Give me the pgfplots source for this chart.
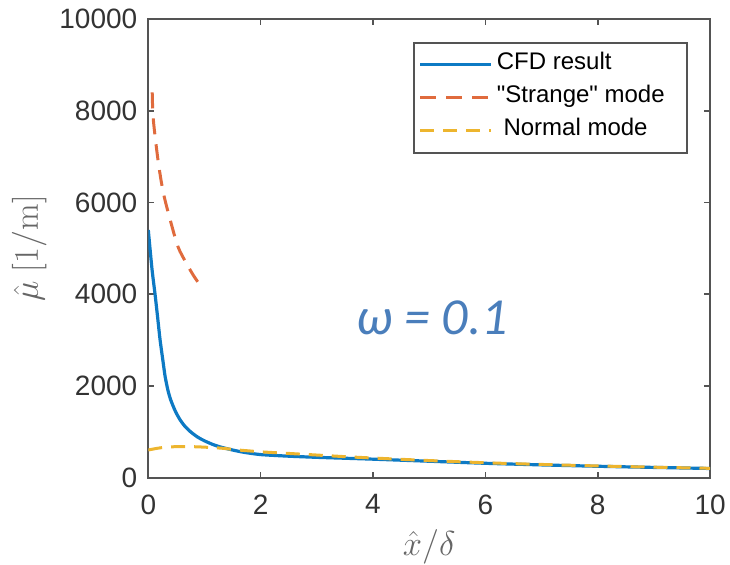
\documentclass[border=0pt]{standalone}
\usepackage[no-math]{fontspec}
\setmainfont{Liberation Sans}
\newfontfamily\legfont{Liberation Sans}
\newfontfamily\carlito{Carlito}
\usepackage{pgfplots}
\pgfplotsset{compat=1.18}
\definecolor{mblue}{rgb}{0.05,0.48,0.77}
\definecolor{morange}{rgb}{0.88,0.42,0.24}
\definecolor{myellow}{rgb}{0.93,0.71,0.18}
\definecolor{axgray}{rgb}{0.33,0.33,0.33}
\definecolor{annot}{HTML}{4A7EBB}
\begin{document}
\begin{tikzpicture}
\begin{axis}[
  scale only axis,
  width=280.9pt, height=229.2pt,
  xmin=0, xmax=10, ymin=0, ymax=10000,
  xtick={0,2,4,6,8,10},
  ytick={0,2000,4000,6000,8000,10000},
  scaled y ticks=false,
  /pgf/number format/assume math mode=true,
  /pgf/number format/1000 sep={},
  tick align=inside,
  major tick length=3pt,
  axis line style={axgray, line width=1pt},
  every tick/.style={axgray, line width=0.8pt},
  tick label style={font=\fontsize{14}{16}\selectfont, text=black!80},
  yticklabel style={xshift=-2pt},
  xticklabel style={yshift=-5pt, text depth=0pt},
  xlabel={$\hat{x}/\delta$},
  ylabel={$\hat{\mu}\ \mathrm{[1/m]}$},
  label style={font=\fontsize{16}{19}\selectfont, text=black!60},
  xlabel style={at={(axis description cs:0.5,-0.152)}, anchor=center},
  ylabel style={at={(axis description cs:-0.212,0.5)}, anchor=center},
  legend style={at={(rel axis cs:0.471,0.950)}, anchor=north west,
    draw=axgray, line width=0.8pt, font=\legfont\fontsize{12}{14}\selectfont,
    inner xsep=2.5pt, inner ysep=4pt, row sep=2.5pt,
    nodes={inner sep=2pt, text height=0.75em, text depth=0.25em}},
  legend cell align=left,
  legend image code/.code={\draw[#1] (0pt,0pt) -- (35.5pt,0pt);},
]
\addplot[mblue, line width=1.6pt, smooth, tension=0.4] coordinates {
(0,5400)(0.03,5000)(0.07,4500)(0.12,4000)(0.17,3450)(0.21,3000)(0.26,2550)
(0.3,2200)(0.35,1900)(0.4,1690)(0.48,1450)(0.56,1270)(0.65,1120)(0.75,1000)
(0.88,880)(1.0,800)(1.15,720)(1.3,660)(1.5,600)(1.7,550)(2.0,500)(2.5,465)
(3.0,440)(3.5,420)(4.0,400)(5.0,355)(6.0,310)(7.0,275)(8.0,245)(9.0,220)(10,197)};
\addlegendentry{CFD result}
\addplot[morange, line width=1.5pt, dash pattern=on 8pt off 5pt, smooth] coordinates {
(0.07,8400)(0.09,7800)(0.18,6860)(0.27,6200)(0.39,5620)(0.53,5030)(0.68,4670)(0.8,4415)(0.88,4270)};
\addlegendentry{"Strange" mode\hspace*{6.5pt}}
\addplot[myellow, line width=1.5pt, dash pattern=on 7pt off 4.5pt, smooth] coordinates {
(0,600)(0.2,645)(0.4,668)(0.6,675)(0.8,672)(1.0,662)(1.3,640)(1.6,600)(1.8,580)(2.0,560)
(2.5,525)(3.0,490)(3.5,455)(4.0,425)(5.0,370)(6.0,322)(7.0,285)(8.0,252)(9.0,225)(10,200)};
\addlegendentry{\ Normal mode}
\node[text=annot, font=\carlito\itshape\fontsize{26}{30}\selectfont, anchor=center]
  at (axis cs:5.05,3475) {ω = 0.1};
\end{axis}
\pgfresetboundingbox
\path (current axis.south west) ++(-74.15pt,-43.25pt) rectangle ++(365pt,282pt);
\end{tikzpicture}
\end{document}
